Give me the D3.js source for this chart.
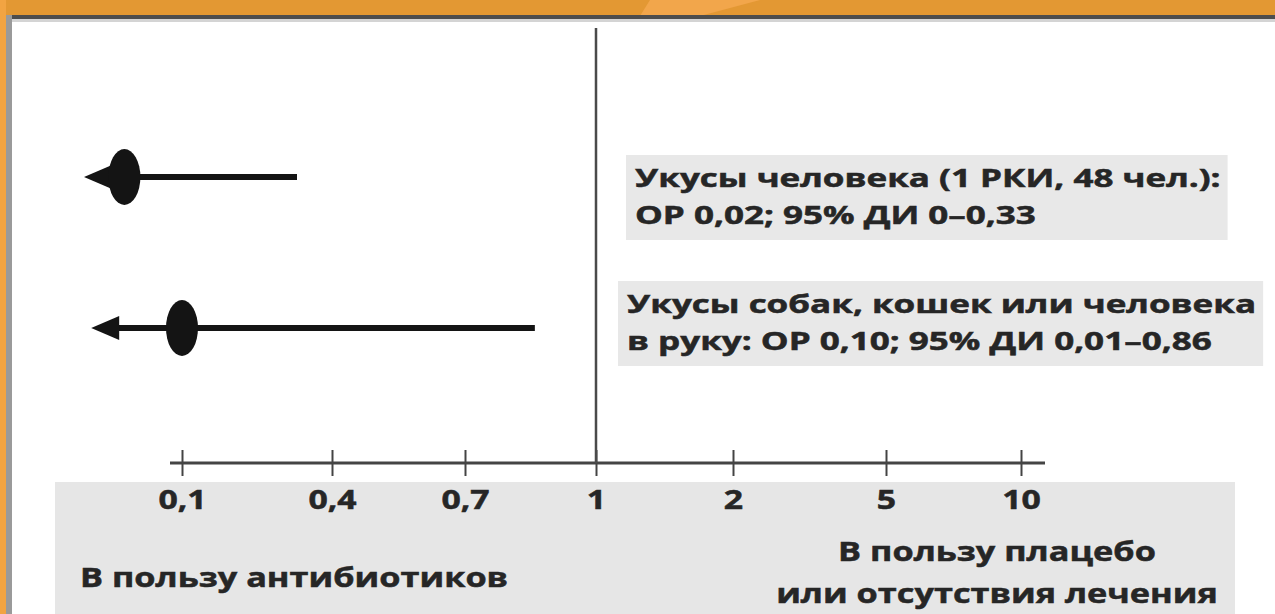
<!DOCTYPE html>
<meta charset="utf-8">
<style>
  body { margin: 0; background: #fff; }
  svg text { font-family: "Open Sans", sans-serif; font-weight: 700; fill: #262626; stroke: #262626; stroke-width: 0.5px; }
</style>
<script src="https://d3js.org/d3.v7.min.js"></script>
<body>
<div id="chart"></div>
<script>
  // data
  var rowNames = ["human", "hand"];
  var estimate = [0.02, 0.10];
  var ciLow = [0, 0.01];
  var ciHigh = [0.33, 0.86];
  var noteLine1 = ["Укусы человека (1 РКИ, 48 чел.):", "Укусы собак, кошек или человека"];
  var noteLine2 = ["ОР 0,02; 95% ДИ 0–0,33", "в руку: ОР 0,10; 95% ДИ 0,01–0,86"];
  var tickValues = [0.1, 0.4, 0.7, 1, 2, 5, 10];
  var tickLabels = ["0,1", "0,4", "0,7", "1", "2", "5", "10"];
  var leftLabel = "В пользу антибиотиков";
  var rightLabel = ["В пользу плацебо", "или отсутствия лечения"];

  var width = 1275, height = 614;
  var axisY = 463;
  // where each note box sits (layout, not data)
  var noteX = [635, 627];
  var noteY = [187, 313];

  // the source lettering is wide and heavy, so the glyphs get stretched sideways
  function stretch(sel, k) {
    sel.each(function() {
      var w = this.getComputedTextLength();
      d3.select(this).attr("textLength", w * k).attr("lengthAdjust", "spacingAndGlyphs");
    });
  }

  var svg = d3.select("#chart").append("svg")
      .attr("width", width)
      .attr("height", height);

  // slide frame: orange band + grey edge
  svg.append("rect").attr("x", 0).attr("y", 0).attr("width", width).attr("height", 16).style("fill", "#e39833");
  svg.append("path").attr("d", "M650,0 L760,0 L700,16 L640,16 Z").style("fill", "#f2a64b");
  svg.append("rect").attr("x", 0).attr("y", 0).attr("width", 6).attr("height", height).style("fill", "#f2a442");
  svg.append("rect").attr("x", 6).attr("y", 15).attr("width", width).attr("height", 4).style("fill", "#4d4d4d");
  svg.append("rect").attr("x", 6).attr("y", 19).attr("width", width).attr("height", 3).style("fill", "#d4d4d4");
  svg.append("rect").attr("x", 6).attr("y", 15).attr("width", 6).attr("height", height).style("fill", "#9a9a9a");

  // x scale: schematic axis, ticks not on a true log/linear scale
  var x = d3.scaleLinear()
      .domain([0].concat(tickValues))
      .range([110, 182, 332, 465, 596, 733, 886, 1021]);

  var y = d3.scalePoint()
      .domain(rowNames)
      .range([177, 328]);

  // grey band under the axis
  svg.append("rect")
      .attr("x", 55).attr("y", 482)
      .attr("width", 1180).attr("height", height - 482)
      .style("fill", "#e6e6e6");

  // axis
  var xAxis = d3.axisBottom(x)
      .tickValues(tickValues)
      .tickFormat(function(d, i) { return tickLabels[i]; })
      .tickSize(13);

  var gAxis = svg.append("g")
      .attr("transform", "translate(0," + axisY + ")")
      .call(xAxis);
  gAxis.select(".domain").remove();
  gAxis.selectAll(".tick line")
      .attr("y1", -13)
      .style("stroke", "#444")
      .style("stroke-width", 2);
  gAxis.selectAll(".tick text")
      .attr("y", 46)
      .attr("dy", 0)
      .style("font-family", "'Open Sans', sans-serif")
      .style("font-weight", 700)
      .style("font-size", "27px")
      .style("fill", "#262626")
      .call(stretch, 1.25);
  svg.append("line")
      .attr("x1", x(0.1) - 12).attr("x2", x(10) + 24)
      .attr("y1", axisY).attr("y2", axisY)
      .style("stroke", "#444")
      .style("stroke-width", 3);

  // line of no effect
  svg.append("line")
      .attr("x1", x(1)).attr("x2", x(1))
      .attr("y1", 28).attr("y2", axisY)
      .style("stroke", "#4a4a4a")
      .style("stroke-width", 2.5);

  // confidence intervals
  var rows = rowNames.map(function(n, i) {
    return {name: n, est: estimate[i], lo: ciLow[i], hi: ciHigh[i]};
  });

  svg.selectAll("line.ci")
    .data(rows)
    .enter().append("line")
      .attr("class", "ci")
      .attr("x1", function(d) { return x(d.lo); })
      .attr("x2", function(d) { return x(d.hi); })
      .attr("y1", function(d) { return y(d.name); })
      .attr("y2", function(d) { return y(d.name); })
      .style("stroke", "#141414")
      .style("stroke-width", 6);

  // arrow heads: lower limit runs off the left of the axis
  svg.selectAll("path.arrow")
    .data(rows)
    .enter().append("path")
      .attr("class", "arrow")
      .attr("d", function(d) {
        var x0 = x(d.lo), y0 = y(d.name);
        return "M" + (x0 - 26) + "," + y0 + " L" + (x0 + 2) + "," + (y0 - 12) +
               " L" + (x0 + 2) + "," + (y0 + 12) + " Z";
      })
      .style("fill", "#141414");

  // point estimates
  svg.selectAll("ellipse.est")
    .data(rows)
    .enter().append("ellipse")
      .attr("class", "est")
      .attr("cx", function(d) { return x(d.est); })
      .attr("cy", function(d) { return y(d.name); })
      .attr("rx", 16)
      .attr("ry", 28)
      .style("fill", "#141414");

  // annotation boxes
  var notes = svg.selectAll("g.note")
    .data(rows)
    .enter().append("g")
      .attr("class", "note");

  var boxRect = notes.append("rect").style("fill", "#e8e8e8");
  var boxText = notes.append("text")
      .attr("y", function(d, i) { return noteY[i]; })
      .style("font-size", "25px");
  boxText.append("tspan")
      .attr("x", function(d, i) { return noteX[i]; })
      .text(function(d, i) { return noteLine1[i]; });
  boxText.append("tspan")
      .attr("x", function(d, i) { return noteX[i]; })
      .attr("dy", 37)
      .text(function(d, i) { return noteLine2[i]; });
  boxText.selectAll("tspan").call(stretch, 1.4);
  boxRect.each(function(d, i) {
    var bb = this.parentNode.querySelector("text").getBBox();
    d3.select(this)
      .attr("x", bb.x - 9).attr("y", bb.y - 5)
      .attr("width", bb.width + 16).attr("height", bb.height + 14);
  });

  // bottom captions
  svg.append("text")
      .attr("x", 80).attr("y", 587)
      .style("font-size", "27px")
      .text(leftLabel)
      .call(stretch, 1.27);
  svg.selectAll("text.right")
    .data(rightLabel)
    .enter().append("text")
      .attr("class", "right")
      .attr("text-anchor", "middle")
      .attr("x", 997)
      .attr("y", function(d, i) { return 561 + i * 42; })
      .style("font-size", "27px")
      .text(function(d) { return d; })
      .call(stretch, 1.27);
</script>
</body>
